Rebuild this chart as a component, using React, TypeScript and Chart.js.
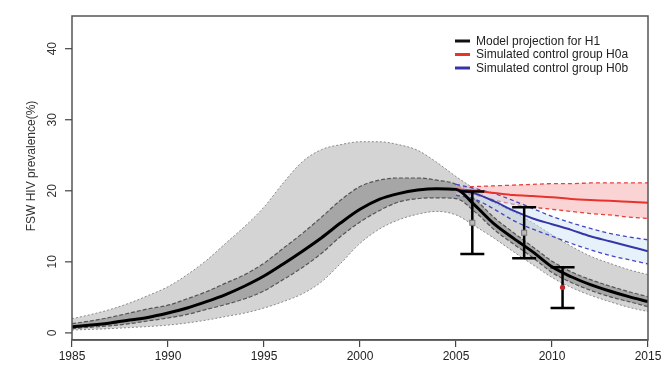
import React, { useEffect, useRef } from "react";
import { Chart, registerables } from "chart.js";

Chart.register(...registerables);

const FONT = '"Liberation Sans", Arial, Helvetica, sans-serif';

// ---------- data ----------
const years = [
  1985, 1986, 1987, 1988, 1989, 1990, 1991, 1992, 1993, 1994, 1995,
  1996, 1997, 1998, 1999, 2000, 2001, 2002, 2003, 2004, 2005,
  2006, 2007, 2008, 2009, 2010, 2011, 2012, 2013, 2014, 2015,
];
const modelH1 = [
  0.85, 1.1, 1.4, 1.8, 2.2, 2.8, 3.5, 4.4, 5.4, 6.6, 8.0,
  9.7, 11.5, 13.4, 15.5, 17.4, 18.8, 19.6, 20.1, 20.3, 20.2,
  17.9, 15.3, 13.3, 11.4, 9.3, 7.9, 6.8, 5.9, 5.1, 4.4,
];
const innerUpper = [
  1.3, 1.7, 2.2, 2.8, 3.4, 3.9, 4.8, 5.8, 7.0, 8.2, 9.8,
  11.9, 14.0, 16.3, 18.7, 20.6, 21.5, 21.8, 21.8, 21.5, 20.9,
  18.8, 16.2, 14.1, 12.1, 10.1, 8.6, 7.5, 6.6, 5.8, 5.1,
];
const innerLower = [
  0.6, 0.8, 1.0, 1.3, 1.7, 2.1, 2.6, 3.3, 4.0, 4.8, 5.9,
  7.5, 9.2, 11.2, 13.6, 15.6, 17.2, 18.4, 18.9, 19.0, 18.9,
  17.0, 14.5, 12.5, 10.6, 8.5, 7.1, 6.0, 5.1, 4.4, 3.7,
];
const outerUpper = [
  2.0, 2.6, 3.3, 4.2, 5.3, 6.5, 8.2, 10.2, 12.6, 15.0, 17.7,
  21.1, 24.1, 25.8, 26.5, 26.9, 26.9, 26.5, 25.7, 24.0, 22.0,
  20.2, 18.3, 17.0, 15.5, 13.8, 12.2, 10.8, 9.8, 8.9, 8.2,
];
const outerLower = [
  0.4, 0.5, 0.6, 0.75, 0.9, 1.1, 1.4, 1.8, 2.3, 2.8, 3.5,
  4.4, 5.5, 7.2, 9.8, 12.6, 14.6, 15.9, 16.7, 17.1, 16.6,
  15.0, 13.3, 11.4, 9.6, 7.8, 6.4, 5.3, 4.4, 3.6, 3.0,
];

const ctrlYears = [2005, 2006, 2007, 2008, 2009, 2010, 2011, 2012, 2013, 2014, 2015];
const h0a = [20.2, 20.0, 19.7, 19.4, 19.25, 19.1, 18.85, 18.7, 18.6, 18.45, 18.3];
const h0aUpper = [20.5, 20.6, 20.7, 20.8, 20.9, 21.0, 21.0, 21.1, 21.1, 21.1, 21.1];
const h0aLower = [19.9, 19.4, 18.7, 18.1, 17.7, 17.4, 17.1, 16.8, 16.6, 16.3, 16.1];
const h0b = [20.2, 19.6, 18.5, 17.2, 16.1, 15.3, 14.5, 13.6, 12.9, 12.2, 11.5];
const h0bUpper = [20.9, 20.3, 19.6, 18.6, 17.5, 16.4, 15.5, 14.7, 14.0, 13.5, 13.1];
const h0bLower = [19.4, 18.8, 17.4, 15.8, 14.6, 13.6, 12.6, 11.7, 10.9, 10.3, 9.7];

const obsYears = [2005.85, 2008.55, 2010.55];
const obsValues = [15.5, 14.1, 6.4];
const obsLow = [11.1, 10.5, 3.5];
const obsHigh = [19.9, 17.7, 9.25];

const xTicks = [1985, 1990, 1995, 2000, 2005, 2010, 2015];
const yTicks = [0, 10, 20, 30, 40];
const yTitle = "FSW HIV prevalence(%)";
const legendLabels = [
  "Model projection for H1",
  "Simulated control group H0a",
  "Simulated control group H0b",
];
const legendColors = ["#111111", "#e8322e", "#3535a8"];

const pts = (xs: number[], ys: number[]) => xs.map((x, i) => ({ x, y: ys[i] }));

const overlay = {
  id: "overlay",
  afterDatasetsDraw(chart: any) {
    const { ctx, scales } = chart;
    const x = scales.x;
    const y = scales.y;
    ctx.save();
    obsYears.forEach((yr, i) => {
      const px = x.getPixelForValue(yr);
      const pTop = y.getPixelForValue(obsHigh[i]);
      const pBot = y.getPixelForValue(obsLow[i]);
      ctx.strokeStyle = "#000";
      ctx.lineWidth = 2.5;
      ctx.beginPath();
      ctx.moveTo(px, pTop);
      ctx.lineTo(px, pBot);
      ctx.moveTo(px - 12, pTop);
      ctx.lineTo(px + 12, pTop);
      ctx.moveTo(px - 12, pBot);
      ctx.lineTo(px + 12, pBot);
      ctx.stroke();
      const pv = y.getPixelForValue(obsValues[i]);
      if (i < 2) {
        ctx.strokeStyle = "#777";
        ctx.lineWidth = 1;
        ctx.fillStyle = "#bbb";
        ctx.fillRect(px - 2.5, pv - 2.5, 5, 5);
        ctx.strokeRect(px - 2.5, pv - 2.5, 5, 5);
      } else {
        ctx.fillStyle = "#c0262a";
        ctx.beginPath();
        ctx.arc(px, pv, 2.6, 0, Math.PI * 2);
        ctx.fill();
      }
    });
    ctx.restore();
  },
  afterDraw(chart: any) {
    const { ctx, chartArea: a, scales } = chart;
    const y = scales.y;
    ctx.save();
    // box
    ctx.strokeStyle = "#555";
    ctx.lineWidth = 1.5;
    ctx.strokeRect(a.left, a.top, a.right - a.left, a.bottom - a.top);
    // y ticks + labels
    ctx.fillStyle = "#333";
    ctx.font = `12px ${FONT}`;
    ctx.lineWidth = 1.2;
    ctx.strokeStyle = "#444";
    yTicks.forEach((v) => {
      const py = y.getPixelForValue(v);
      ctx.beginPath();
      ctx.moveTo(a.left - 7, py);
      ctx.lineTo(a.left, py);
      ctx.stroke();
      ctx.save();
      ctx.translate(a.left - 19, py);
      ctx.rotate(-Math.PI / 2);
      ctx.textAlign = "center";
      ctx.textBaseline = "middle";
      ctx.fillText(String(v), 0, 0);
      ctx.restore();
    });
    // y title
    ctx.save();
    ctx.translate(32, 166);
    ctx.rotate(-Math.PI / 2);
    ctx.textAlign = "center";
    ctx.textBaseline = "middle";
    ctx.fillText(yTitle, 0, 0);
    ctx.restore();
    // legend
    const rows = [41, 54.5, 68];
    legendLabels.forEach((lab, i) => {
      ctx.strokeStyle = legendColors[i];
      ctx.lineWidth = 3;
      ctx.beginPath();
      ctx.moveTo(455, rows[i]);
      ctx.lineTo(470, rows[i]);
      ctx.stroke();
      ctx.fillStyle = "#222";
      ctx.textAlign = "left";
      ctx.textBaseline = "middle";
      ctx.fillText(lab, 476, rows[i] + 0.5);
    });
    ctx.restore();
  },
};

export default function App() {
  const ref = useRef<HTMLCanvasElement | null>(null);
  useEffect(() => {
    if (!ref.current) return;
    const line = (data: any, extra: any) => ({
      data,
      pointRadius: 0,
      pointHoverRadius: 0,
      cubicInterpolationMode: "monotone",
      fill: false,
      ...extra,
    });
    const chart = new Chart(ref.current, {
      type: "line",
      data: {
        datasets: [
          // 0,1 outer band
          line(pts(years, outerUpper), {
            order: 20, fill: 1, backgroundColor: "#d4d4d4",
            borderColor: "#8a8a8a", borderWidth: 1, borderDash: [2, 2],
          }),
          line(pts(years, outerLower), {
            order: 19, borderColor: "#8a8a8a", borderWidth: 1, borderDash: [2, 2],
          }),
          // 2,3 inner band
          line(pts(years, innerUpper), {
            order: 18, fill: 3, backgroundColor: "#a6a6a6",
            borderColor: "#555", borderWidth: 1.2, borderDash: [4, 2],
          }),
          line(pts(years, innerLower), {
            order: 17, borderColor: "#555", borderWidth: 1.2, borderDash: [4, 2],
          }),
          // 4,5 H0a band
          line(pts(ctrlYears, h0aUpper), {
            order: 16, fill: 5, backgroundColor: "rgba(240,120,120,0.32)",
            borderColor: "#e8403c", borderWidth: 1.3, borderDash: [4, 3],
          }),
          line(pts(ctrlYears, h0aLower), {
            order: 15, borderColor: "#e8403c", borderWidth: 1.3, borderDash: [4, 3],
          }),
          // 6,7 H0b band
          line(pts(ctrlYears, h0bUpper), {
            order: 14, fill: 7, backgroundColor: "rgba(200,225,245,0.45)",
            borderColor: "#4646c0", borderWidth: 1.3, borderDash: [4, 3],
          }),
          line(pts(ctrlYears, h0bLower), {
            order: 13, borderColor: "#4646c0", borderWidth: 1.3, borderDash: [4, 3],
          }),
          // main lines
          line(pts(ctrlYears, h0a), { order: 3, borderColor: "#e8322e", borderWidth: 2 }),
          line(pts(ctrlYears, h0b), { order: 2, borderColor: "#3535a8", borderWidth: 2 }),
          line(pts(years, modelH1), { order: 1, borderColor: "#000", borderWidth: 3 }),
        ],
      },
      options: {
        animation: false,
        responsive: false,
        devicePixelRatio: 1,
        events: [],
        layout: { padding: { left: 0, top: 16, right: 19, bottom: 0 } },
        plugins: {
          legend: { display: false },
          tooltip: { enabled: false },
          filler: { propagate: false },
        },
        scales: {
          x: {
            type: "linear",
            min: 1985,
            max: 2015,
            afterBuildTicks: (s: any) => {
              s.ticks = xTicks.map((v) => ({ value: v }));
            },
            afterFit: (s: any) => {
              s.height = 25;
            },
            ticks: {
              color: "#222",
              font: { family: FONT, size: 12 },
              padding: 2,
              maxRotation: 0,
              minRotation: 0,
              autoSkip: false,
              callback: (v: any) => String(v),
            },
            grid: {
              drawOnChartArea: false,
              drawTicks: true,
              tickLength: 7,
              color: "#444",
              lineWidth: 1.2,
            },
            border: { display: true, color: "#555", width: 1.5 },
          },
          y: {
            type: "linear",
            min: -1,
            max: 44.6,
            afterBuildTicks: (s: any) => {
              s.ticks = yTicks.map((v) => ({ value: v }));
            },
            afterFit: (s: any) => {
              s.width = 72;
            },
            ticks: { display: false },
            grid: { display: false },
            border: { display: false },
          },
        },
      },
      plugins: [overlay],
    } as any);
    return () => chart.destroy();
  }, []);
  return (
    <div style={{ position: "fixed", left: 0, top: 0, width: 667, height: 365, background: "#fff" }}>
      <canvas ref={ref} width={667} height={365} style={{ display: "block" }} />
    </div>
  );
}
